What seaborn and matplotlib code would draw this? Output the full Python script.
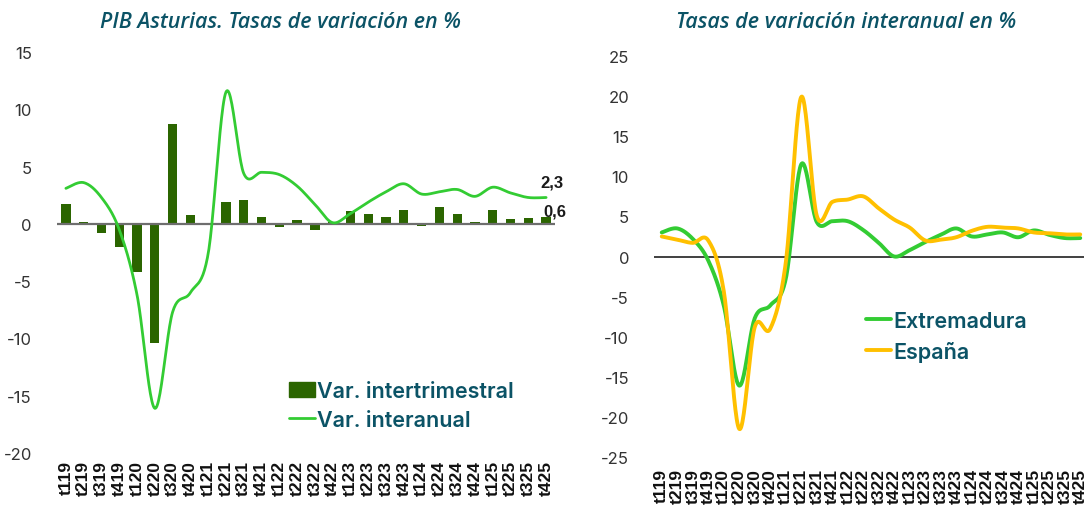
import numpy as np
import pandas as pd
import matplotlib
matplotlib.use("Agg")
import matplotlib.pyplot as plt
import seaborn as sns
from matplotlib.patches import Patch
from matplotlib.lines import Line2D

# ---------------- data ----------------
quarters = ["t119", "t219", "t319", "t419", "t120", "t220", "t320", "t420",
            "t121", "t221", "t321", "t421", "t122", "t222", "t322", "t422",
            "t123", "t223", "t323", "t423", "t124", "t224", "t324", "t424",
            "t125", "t225", "t325", "t425"]

asturias_qoq = [1.7, 0.2, -0.8, -2.0, -4.2, -10.4, 8.7, 0.8, -0.1, 1.9, 2.1, 0.6,
                -0.3, 0.3, -0.5, 0.2, 1.1, 0.9, 0.6, 1.2, -0.2, 1.5, 0.9, 0.2,
                1.2, 0.4, 0.5, 0.6]

asturias_yoy = [3.1, 3.6, 2.3, -0.5, -6.2, -16.1, -7.7, -6.0, -2.6, 11.5, 4.4, 4.5,
                4.3, 3.3, 1.7, 0.1, 0.9, 1.9, 2.8, 3.5, 2.6, 2.8, 3.0, 2.4,
                3.2, 2.7, 2.3, 2.3]

extremadura_yoy = [3.0, 3.5, 2.2, -0.5, -6.1, -16.1, -7.7, -6.1, -2.8, 11.5, 4.3, 4.4,
                   4.4, 3.3, 1.7, 0.0, 0.8, 1.8, 2.7, 3.5, 2.5, 2.75, 3.0, 2.4,
                   3.25, 2.7, 2.3, 2.3]

espana_yoy = [2.5, 2.1, 1.7, 2.0, -4.3, -21.5, -8.8, -9.0, -0.8, 19.9, 5.1, 6.8,
              7.1, 7.5, 6.0, 4.6, 3.6, 2.0, 2.1, 2.4, 3.2, 3.7, 3.6, 3.5,
              3.0, 2.9, 2.75, 2.75]

left_title = "PIB Asturias. Tasas de variación en %"
right_title = "Tasas de variación interanual en %"
left_labels = ["Var. intertrimestral", "Var. interanual"]
right_labels = ["Extremadura", "España"]

# ---------------- style ----------------
BAR = "#2B6500"
LIME = "#33CC33"
GOLD = "#FFC000"
TEAL = "#0B5366"
W, H = 1084, 506


def smooth(values, n=24):
    """Excel-like smoothed line (Catmull-Rom / Bezier) through the points."""
    P = np.column_stack([np.arange(len(values), dtype=float), np.asarray(values, float)])
    out = []
    t = np.linspace(0, 1, n, endpoint=False)[:, None]
    for i in range(len(P) - 1):
        p0 = P[i - 1] if i > 0 else P[i]
        p1, p2 = P[i], P[i + 1]
        p3 = P[i + 2] if i + 2 < len(P) else P[i + 1]
        c1 = p1 + (p2 - p0) / 6.0
        c2 = p2 - (p3 - p1) / 6.0
        out.append((1 - t) ** 3 * p1 + 3 * (1 - t) ** 2 * t * c1
                   + 3 * (1 - t) * t ** 2 * c2 + t ** 3 * p2)
    out.append(P[-1:])
    return np.vstack(out)


sns.set_theme(style="white")
plt.rcParams["font.family"] = ["Inter", "DejaVu Sans"]

fig = plt.figure(figsize=(W / 100, H / 100), dpi=100)


def axes_px(x0, x1, ytop, ybot):
    return fig.add_axes([x0 / W, 1 - ybot / H, (x1 - x0) / W, (ybot - ytop) / H])


def style_axes(ax, ymin, ymax, step, pad_x):
    ax.set_ylim(ymin, ymax)
    ax.set_xlim(-0.5, len(quarters) - 0.5)
    ax.set_yticks(np.arange(ymin, ymax + 1, step))
    ax.set_yticklabels([f"{v:d}" for v in np.arange(ymin, ymax + 1, step)],
                       fontsize=12, color="#333333")
    ax.set_xticks(range(len(quarters)))
    ax.set_xticklabels(quarters, rotation=90, fontsize=12.5, fontweight="bold",
                       family=["Liberation Sans", "DejaVu Sans"], color="#111111",
                       va="top")
    ax.tick_params(axis="y", length=0, pad=18)
    ax.tick_params(axis="x", length=0, pad=pad_x)
    for s in ax.spines.values():
        s.set_visible(False)
    ax.set_xlabel("")
    ax.set_ylabel("")
    ax.grid(False)
    ax.patch.set_alpha(0)


# ---------------- left panel ----------------
axL = axes_px(57, 555, 53, 454)
dfq = pd.DataFrame({"q": quarters, "v": asturias_qoq})
sns.barplot(data=dfq, x="q", y="v", ax=axL, color=BAR, width=0.52,
            saturation=1, edgecolor=BAR, linewidth=0)
axL.axhline(0, color="#6E6E6E", lw=1.6, zorder=3)
s = smooth(asturias_yoy)
sns.lineplot(x=s[:, 0], y=s[:, 1], ax=axL, color=LIME, lw=2.0, sort=False,
             estimator=None, zorder=4)
style_axes(axL, -20, 15, 5, 5)

n = len(quarters) - 1
axL.annotate(f"{asturias_yoy[-1]:.1f}".replace(".", ","), (n, asturias_yoy[-1]),
             xytext=(4, 6), textcoords="offset points", ha="center", va="bottom",
             fontsize=12, fontweight="bold", color="#1A1A1A",
             family=["Liberation Sans", "DejaVu Sans"])
axL.annotate(f"{asturias_qoq[-1]:.1f}".replace(".", ","), (n, asturias_qoq[-1]),
             xytext=(6, -1), textcoords="offset points", ha="center", va="bottom",
             fontsize=12, fontweight="bold", color="#1A1A1A",
             family=["Liberation Sans", "DejaVu Sans"])

handlesL = [Patch(facecolor=BAR, edgecolor=BAR),
            Line2D([0], [0], color=LIME, lw=2.0)]
legL = fig.legend(handlesL, left_labels, loc="upper left",
                  bbox_to_anchor=(289 / W, 1 - 382 / H), frameon=False,
                  fontsize=15.5, handlelength=1.2, handleheight=0.7,
                  handletextpad=0.1, labelspacing=0.4, borderpad=0,
                  borderaxespad=0)
for t in legL.get_texts():
    t.set_color(TEAL)
    t.set_fontweight("semibold")

# ---------------- right panel ----------------
axR = axes_px(654, 1088, 57, 458)
axR.axhline(0, color="#404040", lw=1.4, zorder=1)
for vals, col in [(extremadura_yoy, LIME), (espana_yoy, GOLD)]:
    sm = smooth(vals)
    sns.lineplot(x=sm[:, 0], y=sm[:, 1], ax=axR, color=col, lw=2.8, sort=False,
                 estimator=None, zorder=3)
style_axes(axR, -25, 25, 5, 8)

handlesR = [Line2D([0], [0], color=LIME, lw=2.8),
            Line2D([0], [0], color=GOLD, lw=2.8)]
legR = fig.legend(handlesR, right_labels, loc="upper left",
                  bbox_to_anchor=(866 / W, 1 - 312 / H), frameon=False,
                  fontsize=15.5, handlelength=1.15, handletextpad=0.1,
                  labelspacing=0.45, borderpad=0, borderaxespad=0)
for t in legR.get_texts():
    t.set_color(TEAL)
    t.set_fontweight("semibold")

# ---------------- titles ----------------
for txt, xc in [(left_title, 280), (right_title, 846)]:
    fig.text(xc / W, 1 - 23 / H, txt, ha="center", va="center", fontsize=15.5,
             style="italic", fontweight="semibold", color=TEAL,
             family=["Open Sans", "DejaVu Sans"])

fig.savefig("out.png", dpi=100, facecolor="white")
